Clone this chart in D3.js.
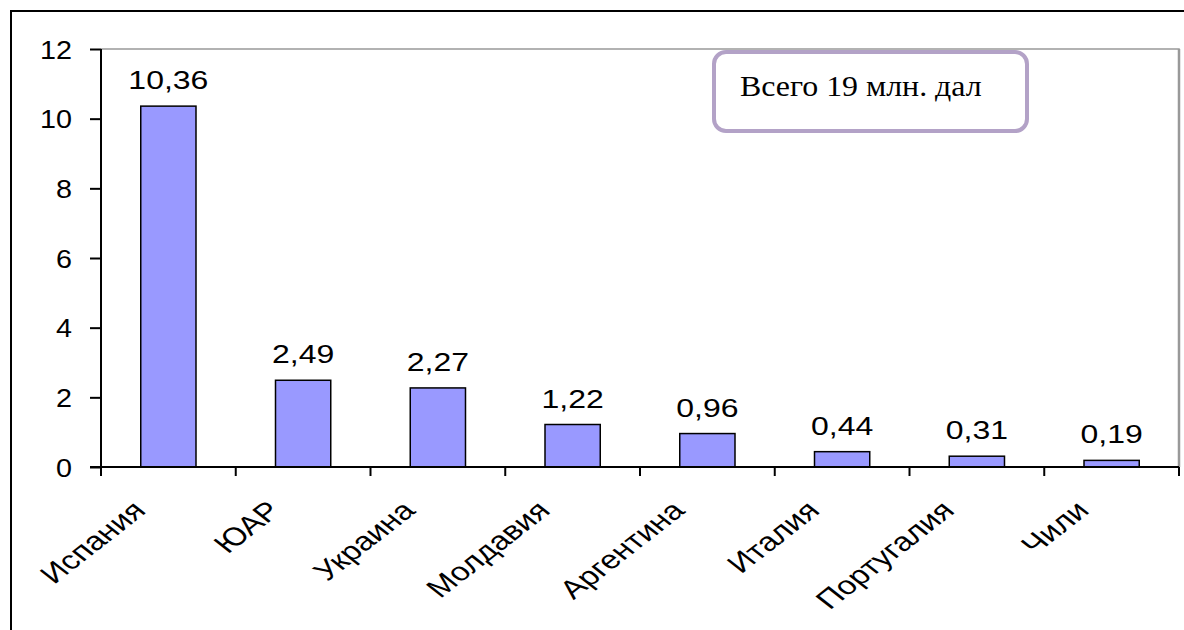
<!DOCTYPE html>
<html>
<head>
<meta charset="utf-8">
<script src="https://cdn.jsdelivr.net/npm/d3@7"></script>
<style>
  body { margin: 0; background: #fff; }
  svg { display: block; }
</style>
</head>
<body>
<div id="chart"></div>
<script>
// data
var countries = ["Испания", "ЮАР", "Украина", "Молдавия", "Аргентина", "Италия", "Португалия", "Чили"];
var volumes = [10.36, 2.49, 2.27, 1.22, 0.96, 0.44, 0.31, 0.19];
var yTicks = [0, 2, 4, 6, 8, 10, 12];
var note = "Всего 19 млн. дал";

var W = 1184, H = 630;
var margin = {top: 49, right: 5, bottom: 163, left: 101},
    width = W - margin.left - margin.right,
    height = H - margin.top - margin.bottom;
var stretch = 1.28; // text in the picture is wider than it is tall

var ru = d3.formatLocale({decimal: ",", thousands: " ", grouping: [3], currency: ["", ""]});
var fmt = ru.format(".2f");

var svg = d3.select("#chart").append("svg")
    .attr("width", W)
    .attr("height", H);

// outer frame (left + top only visible)
svg.append("path")
    .attr("d", "M11,630 V11 H1184")
    .attr("fill", "none")
    .attr("stroke", "#000")
    .attr("stroke-width", 2);

var g = svg.append("g")
    .attr("transform", "translate(" + margin.left + "," + margin.top + ")");

var x = d3.scaleBand().domain(countries).range([0, width]).paddingInner(0.59).paddingOuter(0.295);
var xb = d3.scaleBand().domain(countries).range([0, width]);
var y = d3.scaleLinear().domain([0, 12]).range([height, 0]);

// plot area border (grey top and right)
g.append("path")
    .attr("d", "M0,0 H" + width + " V" + height)
    .attr("fill", "none")
    .attr("stroke", "#999")
    .attr("stroke-width", 1.5);
g.append("line")
    .attr("x1", width).attr("x2", width)
    .attr("y1", 0).attr("y2", height)
    .attr("stroke", "#999").attr("stroke-width", 2.5);

// bars
g.selectAll(".bar")
    .data(volumes)
  .enter().append("rect")
    .attr("class", "bar")
    .attr("x", function(d, i) { return x(countries[i]); })
    .attr("width", x.bandwidth())
    .attr("y", function(d) { return y(d); })
    .attr("height", function(d) { return height - y(d); })
    .attr("fill", "#9999ff")
    .attr("stroke", "#000")
    .attr("stroke-width", 1.5);

// value labels
g.selectAll(".val")
    .data(volumes)
  .enter().append("text")
    .attr("class", "val")
    .attr("transform", function(d, i) {
        return "translate(" + (x(countries[i]) + x.bandwidth() / 2) + "," + (y(d) - 17) + ") scale(" + stretch + ",1)";
    })
    .attr("text-anchor", "middle")
    .attr("font-family", "Liberation Sans, Arial, sans-serif")
    .attr("font-size", 25)
    .text(function(d) { return fmt(d); });

// Y axis
var yAxis = g.append("g")
    .call(d3.axisLeft(y).tickValues(yTicks).tickSize(11).tickPadding(0).tickFormat(""));
yAxis.select(".domain").attr("stroke", "#000").attr("stroke-width", 2).attr("d", "M0,0 V" + height);
yAxis.selectAll(".tick line").attr("stroke", "#000").attr("stroke-width", 2);
yAxis.selectAll(".tick").append("text")
    .attr("transform", "translate(-29,9) scale(1.15,1)")
    .attr("text-anchor", "end")
    .attr("fill", "#000")
    .attr("font-family", "Liberation Sans, Arial, sans-serif")
    .attr("font-size", 25)
    .text(function(d) { return d; });

// X axis: ticks at category boundaries
var xAxis = g.append("g").attr("transform", "translate(0," + height + ")");
xAxis.append("line")
    .attr("x1", -11).attr("x2", width)
    .attr("stroke", "#000").attr("stroke-width", 2);
xAxis.selectAll(".xt")
    .data(countries.concat(["end"]))
  .enter().append("line")
    .attr("class", "xt")
    .attr("x1", function(d, i) { return i * xb.step(); })
    .attr("x2", function(d, i) { return i * xb.step(); })
    .attr("y1", 0).attr("y2", 9)
    .attr("stroke", "#000").attr("stroke-width", 2);

// category labels, rotated
xAxis.selectAll(".cat")
    .data(countries)
  .enter().append("text")
    .attr("class", "cat")
    .attr("transform", function(d) {
        return "translate(" + (xb(d) + xb.bandwidth() / 2 - 21) + ",45) scale(" + stretch + ",1) rotate(-45)";
    })
    .attr("text-anchor", "end")
    .attr("font-family", "Liberation Sans, Arial, sans-serif")
    .attr("font-size", 26)
    .text(function(d) { return d; });

// note box
svg.append("rect")
    .attr("x", 714).attr("y", 52)
    .attr("width", 313).attr("height", 79)
    .attr("rx", 12).attr("ry", 12)
    .attr("fill", "#fff")
    .attr("stroke", "#b3a2c7")
    .attr("stroke-width", 4);
svg.append("text")
    .attr("transform", "translate(740,96) scale(1.1,1)")
    .attr("font-family", "Liberation Serif, Times New Roman, serif")
    .attr("font-size", 29)
    .text(note);
</script>
</body>
</html>
